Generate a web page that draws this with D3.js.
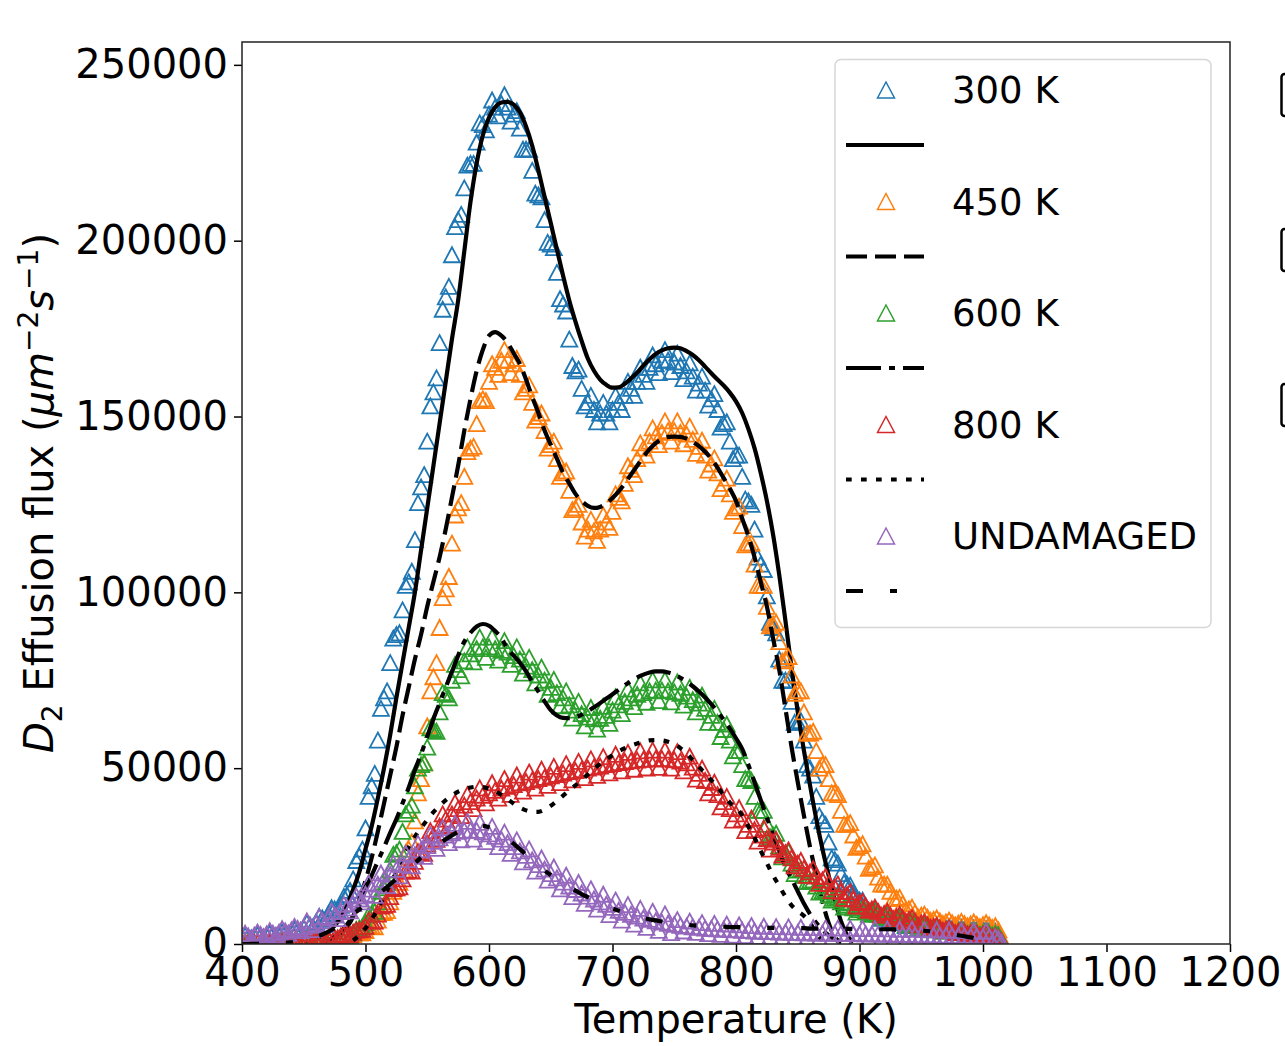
<!DOCTYPE html>
<html>
<head>
<meta charset="utf-8">
<script src="https://cdn.jsdelivr.net/npm/d3@7"></script>
<style>
  html, body { margin: 0; padding: 0; background: #fff; }
  svg { display: block; font-family: "DejaVu Sans", sans-serif; }
</style>
</head>
<body>
<svg id="chart" width="1285" height="1046"></svg>
<script>
// sample temperatures (K), 5 K apart
var temps = d3.range(400, 1016, 5);

// measured D2 effusion flux, in thousands of um^-2 s^-1 (one row = 50 K)
var flux300 = [
  2.0, 2.1, 2.2, 2.3, 2.5, 2.7, 2.9, 3.2, 3.5, 4.0,
  4.6, 5.4, 6.3, 7.4, 8.6, 10, 11, 14, 18.5, 25,
  33, 45, 58, 70, 80, 88, 95, 103, 115, 130,
  143, 157, 171, 184, 196, 206, 215, 222, 228, 233,
  236, 238, 239, 238, 236, 232, 226, 220, 213, 206,
  199, 191, 182, 172, 163, 158, 154, 152, 151, 151,
  152, 154, 156, 158, 160, 162, 164, 165, 166, 166,
  165.5, 164.5, 163, 161.5, 159.5, 157.5, 155, 152, 148, 143,
  139, 133, 126, 118, 108, 99, 90, 81, 75, 69,
  63, 58, 50, 42, 35, 29, 24, 20, 17, 14.5,
  12.5, 10.8, 9.5, 8.5, 7.7, 7.1, 6.6, 6.2, 5.8, 5.5,
  5.2, 5.0, 4.8, 4.6, 4.5, 4.4, 4.3, 4.2, 4.1, 4.0,
  3.9, 3.8, 3.6, 1.0
];
var flux450 = [
  0.4, 0.4, 0.4, 0.5, 0.5, 0.5, 0.6, 0.6, 0.7, 0.8,
  0.9, 1.0, 1.1, 1.3, 1.5, 1.7, 2.0, 2.3, 2.7, 3.2,
  3.8, 5, 6.8, 9, 12, 16, 21, 27, 35, 47,
  62, 76, 90, 101, 114, 124, 133, 141, 148, 155,
  160, 164, 166, 166, 165, 162, 158, 154, 150, 146,
  142, 138, 134, 129, 124, 120, 118, 117.5, 118, 120,
  123, 127, 131, 135, 138, 141, 143, 144.5, 145.5, 146,
  146, 145.5, 145, 143.5, 141.5, 139, 136.5, 134, 131, 128,
  124, 119, 114, 108, 102, 96, 91, 86, 81, 76.5,
  72, 66, 60, 55, 51, 47, 43, 38, 34, 31,
  28, 25, 22, 19, 17, 15, 13, 11.5, 10, 9,
  8.2, 7.6, 7.0, 6.6, 6.3, 6.1, 5.9, 5.8, 5.7, 5.6,
  5.5, 5.4, 5.2, 1.5
];
var flux600 = [
  0.3, 0.3, 0.3, 0.3, 0.4, 0.4, 0.4, 0.5, 0.5, 0.6,
  0.7, 0.8, 0.9, 1.1, 1.3, 1.6, 2.0, 2.5, 3.2, 4.5,
  6, 8.5, 12, 16, 21, 26, 32, 38, 45, 51,
  56, 61, 66, 71, 75, 78, 80.5, 82.5, 84, 84.5,
  84.5, 84, 83.5, 83, 82, 81, 79, 78, 76.5, 75,
  73, 71.5, 70, 68, 66.5, 65.5, 64.5, 64, 64.2, 65,
  66.5, 68, 69, 70, 71, 71.5, 72, 72.2, 72.2, 72,
  71.7, 71.3, 70.5, 69.5, 68.5, 67, 65, 63, 61, 58,
  55, 51, 47, 42, 38, 34, 31, 28, 25.5, 23,
  21, 19.5, 18, 16.5, 15, 14, 13, 12, 11, 10.3,
  9.8, 9.3, 8.9, 8.5, 8.1, 7.6, 7.0, 6.4, 5.9, 5.4,
  5.0, 4.7, 4.4, 4.2, 4.0, 3.8, 3.6, 3.5, 3.4, 3.3,
  3.2, 3.1, 3.0, 1.0
];
var flux800 = [
  0.3, 0.3, 0.3, 0.3, 0.4, 0.4, 0.4, 0.5, 0.5, 0.6,
  0.7, 0.8, 1.0, 1.2, 1.5, 1.8, 2.2, 2.7, 3.3, 4.0,
  5, 6.5, 8.5, 11, 13.5, 16, 18.5, 21, 23.5, 26,
  28.5, 31, 33.5, 35.5, 37, 38.5, 39.5, 40.5, 41.5, 42.3,
  43, 43.7, 44.3, 44.8, 45.3, 45.8, 46.2, 46.6, 47, 47.4,
  47.8, 48.2, 48.6, 49, 49.3, 49.6, 50, 50.3, 50.6, 51,
  51.3, 51.6, 51.9, 52.1, 52.3, 52.5, 52.6, 52.7, 52.7, 52.6,
  52.4, 52, 51.5, 50.3, 48.5, 46.5, 44.5, 42.5, 40.5, 38.5,
  37, 35.5, 34, 32.5, 31, 30, 29, 27.5, 26, 24.5,
  23, 21.5, 20.5, 19.3, 18.2, 17.2, 16.2, 15, 14, 12.8,
  11.8, 10.8, 10, 9.3, 8.7, 8.2, 7.8, 7.4, 7.0, 6.5,
  6.0, 5.5, 5.0, 4.6, 4.2, 3.9, 3.6, 3.4, 3.2, 3.0,
  2.8, 2.6, 2.4, 0.8
];
var fluxUndamaged = [
  2.2, 2.3, 2.5, 2.7, 2.9, 3.1, 3.4, 3.7, 4.0, 4.4,
  4.8, 5.3, 5.9, 6.6, 7.4, 8.2, 9.2, 10.3, 11.5, 12.8,
  14.2, 15.6, 17, 18.4, 19.8, 21.2, 22.6, 24, 25.4, 26.8,
  28, 29.2, 30.2, 31, 31.6, 32, 32.3, 32.4, 32.3, 31.9,
  31.3, 30.6, 29.8, 28.8, 27.7, 26.5, 25.2, 23.9, 22.6, 21.3,
  20, 18.8, 17.6, 16.5, 15.5, 14.5, 13.6, 12.8, 12, 11.3,
  10.4, 9.6, 9.0, 8.4, 7.9, 7.4, 7.0, 6.6, 6.2, 5.9,
  5.6, 5.3, 5.1, 4.9, 4.7, 4.5, 4.4, 4.3, 4.2, 4.1,
  4.0, 3.9, 3.8, 3.7, 3.6, 3.5, 3.5, 3.4, 3.4, 3.3,
  3.3, 3.2, 3.2, 3.1, 3.1, 3.1, 3.0, 3.0, 3.0, 3.0,
  2.9, 2.9, 2.9, 2.8, 2.8, 2.8, 2.7, 2.7, 2.7, 2.6,
  2.6, 2.6, 2.5, 2.5, 2.4, 2.4, 2.3, 2.3, 2.2, 2.2,
  2.1, 2.1, 2.0, 0.5
];

// in-between readings of the noisy bands, at T + 2.5 K (same units)
var flux300b = [
  2.45, 1.75, 2.65, 2.0, 3.0, 2.4, 3.45, 2.95, 4.15, 3.9,
  6.0, 4.85, 7.85, 7.0, 10.3, 9.5, 13.5, 15.25, 23.75, 27,
  42, 48.5, 67, 72, 87, 88.5, 102, 106, 125.5, 133.5,
  153, 161, 180.5, 187, 204, 207.5, 221.5, 222, 233.5, 231.5,
  240, 235.5, 241.5, 234, 237, 226, 226, 213.5, 212.5, 199.5,
  198, 183.5, 180, 164.5, 163.5, 153, 156, 148.5, 154, 148.5,
  156, 152, 160, 156, 164, 160, 167.5, 162.5, 169, 162.75,
  168, 160.75, 165.25, 157.5, 161.5, 153.25, 156.5, 147, 148.5, 138,
  139, 126.5, 125, 110, 106.5, 91.5, 88.5, 75, 75, 63,
  63.5, 51, 48, 36.5, 34, 24.5, 23, 17.5, 16.75, 12.5,
  12.45, 9.35, 9.8, 7.3, 8.2, 6.05, 7.2, 5.2, 6.45, 4.55,
  5.6, 4.4, 5.2, 4.05, 4.95, 3.85, 4.75, 3.65, 4.55, 3.45,
  4.35, 3.2, 3.0, null
];
var flux450b = [
  0.6, 0.2, 0.65, 0.3, 0.7, 0.35, 0.8, 0.45, 0.95, 0.65,
  1.25, 0.75, 1.5, 1.1, 1.9, 1.55, 2.45, 2.2, 3.25, 3.2,
  5.4, 4.9, 8.9, 9.5, 15, 17.5, 26, 29, 43, 51.5,
  72, 80, 98.5, 104.5, 122, 125.5, 140, 141.5, 154.5, 154.5,
  165, 162, 169, 162.5, 166.5, 157, 159, 149, 151, 141,
  143, 133, 134.5, 123.5, 125, 116, 120.75, 114.75, 122, 118.5,
  128, 126, 136, 133.5, 142.5, 139, 146.75, 142, 148.75, 143,
  148.75, 142.25, 147.25, 139.5, 143.25, 134.75, 138.25, 129.5, 132.5, 123,
  124.5, 113.5, 114, 102, 102, 90.5, 91.5, 80.5, 81.75, 71.25,
  72, 60, 60.5, 50, 51, 43, 42.5, 34, 34.5, 27.5,
  28.5, 21.5, 22.5, 17, 17, 13, 13.25, 9.75, 10.5, 7.6,
  8.5, 6.7, 7.4, 5.85, 6.8, 5.4, 6.45, 5.15, 6.25, 4.95,
  6.05, 4.7, 4.0, null
];
var flux600b = [
  0.45, 0.15, 0.45, 0.2, 0.55, 0.25, 0.6, 0.35, 0.7, 0.5,
  1.05, 0.55, 1.3, 0.9, 1.75, 1.5, 2.55, 2.55, 4.15, 4.95,
  8.25, 9.25, 15, 17.5, 25.5, 27, 37, 39.5, 50, 51.5,
  61.5, 60.5, 71.5, 70, 79.5, 76.25, 84.5, 80.25, 87.25, 81.5,
  87.25, 80.75, 86.25, 79.5, 84.5, 77, 81.5, 74.25, 78.75, 71,
  75.25, 67.75, 72, 64.25, 69, 62, 67.25, 61.1, 67.6, 62.75,
  70.25, 65.5, 72.5, 67.5, 74.25, 68.75, 75.1, 69.2, 75.1, 68.85,
  74.5, 67.9, 73, 66, 70.75, 63, 67, 59, 62.5, 53.5,
  55, 47, 46.5, 38, 38, 30.5, 31.5, 24.75, 26.25, 20,
  21.25, 17.75, 18.25, 14.75, 15.5, 12.5, 13.5, 10.5, 11.65, 9.05,
  10.25, 8.4, 9.4, 7.6, 8.55, 6.6, 7.4, 5.45, 6.35, 4.5,
  5.35, 4.05, 4.8, 3.6, 4.4, 3.2, 4.05, 2.95, 3.85, 2.75,
  3.65, 2.55, 2.5, null
];
var flux800b = [
  0.45, 0.15, 0.45, 0.2, 0.55, 0.25, 0.6, 0.35, 0.7, 0.5,
  1.05, 0.6, 1.4, 1.05, 1.95, 1.7, 2.75, 2.7, 3.95, 4.2,
  6.75, 6.5, 10.75, 11.25, 15.75, 16.25, 20.75, 20.75, 26.25, 25.75,
  32.25, 29.75, 37, 33.75, 40.25, 36.5, 42.5, 38.5, 44.4, 40.15,
  45.85, 41.5, 47.05, 42.55, 48.05, 43.5, 48.9, 44.3, 49.7, 45.1,
  50.5, 45.9, 51.3, 46.65, 51.95, 47.3, 52.65, 47.95, 53.3, 48.65,
  53.95, 49.25, 54.5, 49.7, 54.9, 50.05, 55.15, 50.2, 55.15, 50,
  54.7, 49.25, 53.4, 46.9, 50, 43, 46, 39, 42, 35.25,
  38.75, 32.25, 35.75, 29.25, 33, 27, 29.75, 25.25, 26.75, 22.25,
  23.75, 19.5, 21.4, 17.25, 19.2, 15.2, 17.1, 13, 14.9, 10.8,
  12.1, 9.6, 10.45, 8.2, 9.25, 7.2, 8.4, 6.4, 7.55, 5.45,
  6.25, 4.75, 5.3, 3.9, 4.55, 3.25, 4.0, 2.8, 3.6, 2.4,
  3.2, 2.0, 1.8, null
];
var fluxUndamagedB = [
  3.05, 1.6, 3.4, 2.0, 3.8, 2.45, 4.35, 3.05, 5.0, 3.8,
  6.55, 4.1, 7.75, 5.5, 9.3, 7.2, 11.25, 9.4, 13.65, 12,
  17.4, 13.8, 20.2, 16.6, 23, 19.4, 25.8, 22.2, 28.6, 24.9,
  31.1, 27.2, 33.1, 28.8, 34.3, 29.65, 34.85, 29.85, 34.6, 29.1,
  33.45, 27.7, 31.8, 25.75, 29.6, 23.35, 27.05, 20.75, 24.45, 18.15,
  21.9, 15.7, 19.55, 13.5, 17.5, 11.55, 15.7, 9.9, 14.15, 8.35,
  12.5, 6.8, 11.2, 5.65, 10.15, 4.7, 9.3, 3.9, 8.55, 3.25,
  6.95, 3.7, 6.5, 3.3, 6.1, 2.95, 5.85, 2.75, 5.65, 2.55,
  5.45, 2.35, 5.25, 2.15, 5.05, 2.0, 4.95, 1.9, 4.85, 1.8,
  4.75, 1.7, 4.65, 1.6, 4.6, 1.55, 4.5, 1.5, 4.5, 1.45,
  4.4, 1.4, 4.35, 1.3, 4.3, 1.25, 4.2, 1.2, 4.15, 1.1,
  4.1, 1.05, 4.0, 0.95, 3.9, 0.85, 3.8, 0.75, 3.7, 0.65,
  3.6, 0.6, 1.5, null
];

// model fits on the same 5 K grid (null = not drawn)
var fit300 = [
  null, null, null, null, null, null, null, null, null, null,
  0.5, 0.8, 1.3, 2.2, 3.4, 5.2, 7.5, 11, 15.5, 20.5,
  27, 33.5, 41.5, 50, 59.5, 70, 80, 90, 100, 112,
  124, 136, 148, 160, 172, 183, 197, 211, 222, 230,
  235, 238, 239.3, 239.5, 238.7, 236.5, 232.5, 227, 220, 212.5,
  205, 197.5, 190, 183, 177, 171.5, 166.5, 163, 160.5, 159,
  158.2, 158.3, 159.3, 160.8, 162.5, 164.5, 166.3, 167.8, 168.8, 169.4,
  169.6, 169.4, 168.6, 167.5, 166, 164.2, 162.3, 160.5, 158.8, 156.8,
  154.3, 151, 146.5, 141, 134, 126, 116.5, 105, 92, 78.5,
  66, 55, 45, 35.5, 27, 19.5, 12.5, 6.5, 2.5, 0.5,
  null, null, null, null, null, null, null, null, null, null,
  null, null, null, null, null, null, null, null, null, null,
  null, null, null, null
];
var fit450 = [
  null, null, null, null, null, null, null, null, null, null,
  null, null, null, 0.5, 1, 1.8, 3, 4.8, 7.8, 12.5,
  18, 24.5, 32, 40, 48, 56, 65, 73, 81, 88,
  96, 103, 110, 118, 127, 136, 146, 155, 163, 169,
  173, 174, 173, 171, 168, 165, 160.5, 155.5, 151, 146,
  142, 138, 134, 131, 128, 126, 124.6, 124, 124.3, 125.3,
  126.8, 128.7, 131, 133.5, 136, 138.5, 140.7, 142.4, 143.6, 144.2,
  144.3, 144.2, 143.7, 142.8, 141.6, 140, 138, 135.5, 132.5, 129.5,
  126, 121, 116, 110, 103, 96, 87, 78, 67, 56,
  46, 36.5, 27.5, 19.5, 12, 6, 2, 0.3, null, null,
  null, null, null, null, null, null, null, null, null, null,
  null, null, null, null, null, null, null, null, null, null,
  null, null, null, null
];
var fit600 = [
  null, null, null, null, null, null, null, null, null, null,
  null, null, null, null, 1.0, 2.0, 3.5, 5.5, 8, 11,
  15.5, 19.5, 23.5, 27.5, 31.6, 35.5, 40, 44.5, 49.5, 54,
  59, 64, 68.5, 73, 77.5, 82, 86, 88.5, 90.3, 91,
  90.5, 89, 87, 84, 82, 80, 77.5, 74.5, 71.8, 69,
  66.5, 65, 64.3, 64.2, 64.5, 65.2, 66.2, 67.3, 68.5, 69.8,
  71, 72.3, 73.6, 74.8, 75.8, 76.6, 77.2, 77.5, 77.5, 77.2,
  76.6, 75.7, 74.6, 73.3, 71.8, 70.1, 68.2, 66.1, 63.8, 61.3,
  58.5, 55.5, 51, 46, 41, 36, 31, 26.5, 22, 18.5,
  15, 11.5, 8.5, 6, 4, 2.5, 1.3, 0.5, null, null,
  null, null, null, null, null, null, null, null, null, null,
  null, null, null, null, null, null, null, null, null, null,
  null, null, null, null
];
var fit800 = [
  null, null, null, null, null, null, null, null, null, null,
  null, null, null, null, null, null, null, null, 1, 2.5,
  4.5, 7, 10, 13.5, 17, 20.5, 24, 27.5, 30.5, 33,
  35.3, 37.5, 39.3, 40.9, 42.2, 43.3, 44, 44.5, 44.7, 44.6,
  44.2, 43.5, 42.4, 41.2, 39.9, 38.8, 38, 37.6, 37.6, 38.2,
  39.3, 40.7, 42.2, 43.7, 45.1, 46.6, 48.2, 49.8, 51.2, 52.5,
  53.7, 54.8, 55.7, 56.4, 57, 57.5, 57.9, 58, 57.9, 57.5,
  56.8, 55.7, 54.2, 52.3, 50.4, 48.5, 46.6, 44.6, 42.4, 40.2,
  38.8, 36.6, 33.5, 30.2, 26.5, 23, 19.5, 16.5, 13.5, 11,
  9.3, 8, 6, 3, 1, null, null, null, null, null,
  null, null, null, null, null, null, null, null, null, null,
  null, null, null, null, null, null, null, null, null, null,
  null, null, null, null
];
var fitUndamaged = [
  0, 0, 0.05, 0.1, 0.15, 0.2, 0.3, 0.4, 0.5, 0.7,
  1, 1.5, 2, 2.7, 3.5, 4.5, 5.7, 7, 8.5, 9.8,
  11, 12.5, 14, 15.5, 17, 18.5, 20, 21.5, 23, 24.6,
  26, 27.4, 28.6, 29.8, 30.9, 31.9, 32.7, 33.3, 33.6, 33.6,
  33.2, 32.5, 31.4, 30, 28.5, 27, 25.4, 23.8, 22.3, 20.9,
  19.6, 18.4, 17.3, 16.2, 15.2, 14.2, 13.3, 12.4, 11.6, 10.8,
  10.1, 9.5, 8.9, 8.3, 7.8, 7.4, 7.0, 6.7, 6.4, 6.1,
  5.9, 5.7, 5.5, 5.3, 5.2, 5.1, 5.0, 4.9, 4.9, 4.8,
  4.8, 4.8, 4.7, 4.7, 4.7, 4.6, 4.6, 4.6, 4.5, 4.5,
  4.5, 4.5, 4.4, 4.4, 4.4, 4.4, 4.3, 4.3, 4.3, 4.3,
  4.3, 4.3, 4.2, 4.2, 4.2, 4.2, 4.1, 4.1, 4.0, 3.9,
  3.8, 3.7, 3.5, 3.3, 3.1, 2.8, 2.5, 2.2, 1.9, 1.5,
  1.1, 0.6, 0.2, null
];

var seriesLabels = ["300 K", "450 K", "600 K", "800 K", "UNDAMAGED"];
var seriesColors = ["#1f77b4", "#ff7f0e", "#2ca02c", "#d62728", "#9467bd"];
var measured = [flux300, flux450, flux600, flux800, fluxUndamaged];
var measuredB = [flux300b, flux450b, flux600b, flux800b, fluxUndamagedB];
var fits = [fit300, fit450, fit600, fit800, fitUndamaged];
var fitDashes = [null, "21,8", "35,8,6,8", "5.7,9.3", "17,27,7,27"];
var xTicks = [400, 500, 600, 700, 800, 900, 1000, 1100, 1200];
var yTicks = [0, 50000, 100000, 150000, 200000, 250000];

var KILO = 1000;
var svg = d3.select("#chart");
// plot box in pixels ("top" is taken by window.top, hence the prefixes)
var plotLeft = 242, plotRight = 1230, plotTop = 42, plotBottom = 944;

var x = d3.scaleLinear().domain([400, 1200]).range([plotLeft, plotRight]);
var y = d3.scaleLinear().domain([0, 256500]).range([plotBottom, plotTop]);

svg.append("defs").append("clipPath").attr("id", "plotclip")
    .append("rect")
    .attr("x", plotLeft).attr("y", plotTop)
    .attr("width", plotRight - plotLeft).attr("height", plotBottom - plotTop);

var plot = svg.append("g").attr("clip-path", "url(#plotclip)");

// hollow "^" marker
function triangle(w, h) {
    return "M0," + (-h / 2) + "L" + (w / 2) + "," + (h / 2) + "L" + (-w / 2) + "," + (h / 2) + "Z";
}

var fitLine = d3.line()
    .defined(function (d) { return d.v !== null; })
    .x(function (d) { return x(d.t); })
    .y(function (d) { return y(d.v * KILO); })
    .curve(d3.curveMonotoneX);

for (var i = 0; i < measured.length; i++) {
    var pts = [];
    temps.forEach(function (t, k) {
        pts.push({ t: t, v: measured[i][k] });
        if (measuredB[i][k] !== null) pts.push({ t: t + 2.5, v: measuredB[i][k] });
    });
    plot.append("g").selectAll("path")
        .data(pts)
        .enter().append("path")
        .attr("d", triangle(16, 15))
        .attr("transform", function (d) { return "translate(" + x(d.t) + "," + y(d.v * KILO) + ")"; })
        .attr("fill", "none")
        .attr("stroke", seriesColors[i])
        .attr("stroke-width", 1.8);

    var fitPts = temps.map(function (t, k) { return { t: t, v: fits[i][k] }; });
    plot.append("path")
        .datum(fitPts)
        .attr("d", fitLine)
        .attr("fill", "none")
        .attr("stroke", "#000")
        .attr("stroke-width", 4.2)
        .attr("stroke-dasharray", fitDashes[i]);
}

// axes
var xAxis = d3.axisBottom(x).tickValues(xTicks).tickSize(8).tickPadding(6).tickSizeOuter(0)
    .tickFormat(d3.format("d"));
var yAxis = d3.axisLeft(y).tickValues(yTicks).tickSize(8).tickPadding(6).tickSizeOuter(0)
    .tickFormat(d3.format("d"));

var gx = svg.append("g").attr("transform", "translate(0," + plotBottom + ")").call(xAxis);
var gy = svg.append("g").attr("transform", "translate(" + plotLeft + ",0)").call(yAxis);
[gx, gy].forEach(function (g) {
    g.select(".domain").remove();
    g.selectAll(".tick line").attr("stroke", "#000").attr("stroke-width", 1.5);
    g.selectAll(".tick text").attr("fill", "#000")
        .style("font-family", "DejaVu Sans").style("font-size", "40px");
});

svg.append("rect")
    .attr("x", plotLeft).attr("y", plotTop)
    .attr("width", plotRight - plotLeft).attr("height", plotBottom - plotTop)
    .attr("fill", "none").attr("stroke", "#222").attr("stroke-width", 1.5);

svg.append("text")
    .attr("x", (plotLeft + plotRight) / 2).attr("y", 1033)
    .attr("text-anchor", "middle")
    .style("font-size", "40px")
    .text("Temperature (K)");

var ylab = svg.append("text")
    .attr("transform", "translate(53," + ((plotTop + plotBottom) / 2) + ") rotate(-90)")
    .attr("text-anchor", "middle")
    .style("font-size", "40px");
ylab.append("tspan").style("font-style", "italic").text("D");
ylab.append("tspan").attr("dy", 9).style("font-size", "28px").text("2");
ylab.append("tspan").attr("dy", -9).text(" Effusion flux (");
ylab.append("tspan").style("font-style", "italic").text("μm");
ylab.append("tspan").attr("dy", -15).style("font-size", "28px").text("−2");
ylab.append("tspan").attr("dy", 15).style("font-style", "italic").text("s");
ylab.append("tspan").attr("dy", -15).style("font-size", "28px").text("−1");
ylab.append("tspan").attr("dy", 15).text(")");

// legend
var legend = svg.append("g");
legend.append("rect")
    .attr("x", 835).attr("y", 59.5)
    .attr("width", 376).attr("height", 568)
    .attr("rx", 6)
    .attr("fill", "#fff").attr("fill-opacity", 0.8)
    .attr("stroke", "#d6d6d6").attr("stroke-width", 1.5);

var rowStep = 111.5;
seriesLabels.forEach(function (label, i) {
    var my = 90 + i * rowStep;
    var ly = 145 + i * rowStep;
    legend.append("path")
        .attr("d", triangle(17, 16))
        .attr("transform", "translate(886," + my + ")")
        .attr("fill", "none")
        .attr("stroke", seriesColors[i])
        .attr("stroke-width", 1.5);
    legend.append("text")
        .attr("x", 952).attr("y", my)
        .attr("dy", "0.36em")
        .style("font-size", "37px")
        .text(label);
    legend.append("line")
        .attr("x1", 846).attr("x2", 924)
        .attr("y1", ly).attr("y2", ly)
        .attr("stroke", "#000")
        .attr("stroke-width", 4.2)
        .attr("stroke-dasharray", fitDashes[i]);
});

// cut-off boxes at the right edge of the figure
[74, 229, 384].forEach(function (by) {
    svg.append("rect")
        .attr("x", 1281.5).attr("y", by)
        .attr("width", 30).attr("height", 42)
        .attr("rx", 3)
        .attr("fill", "none")
        .attr("stroke", "#000").attr("stroke-width", 2.5);
});
</script>
</body>
</html>
